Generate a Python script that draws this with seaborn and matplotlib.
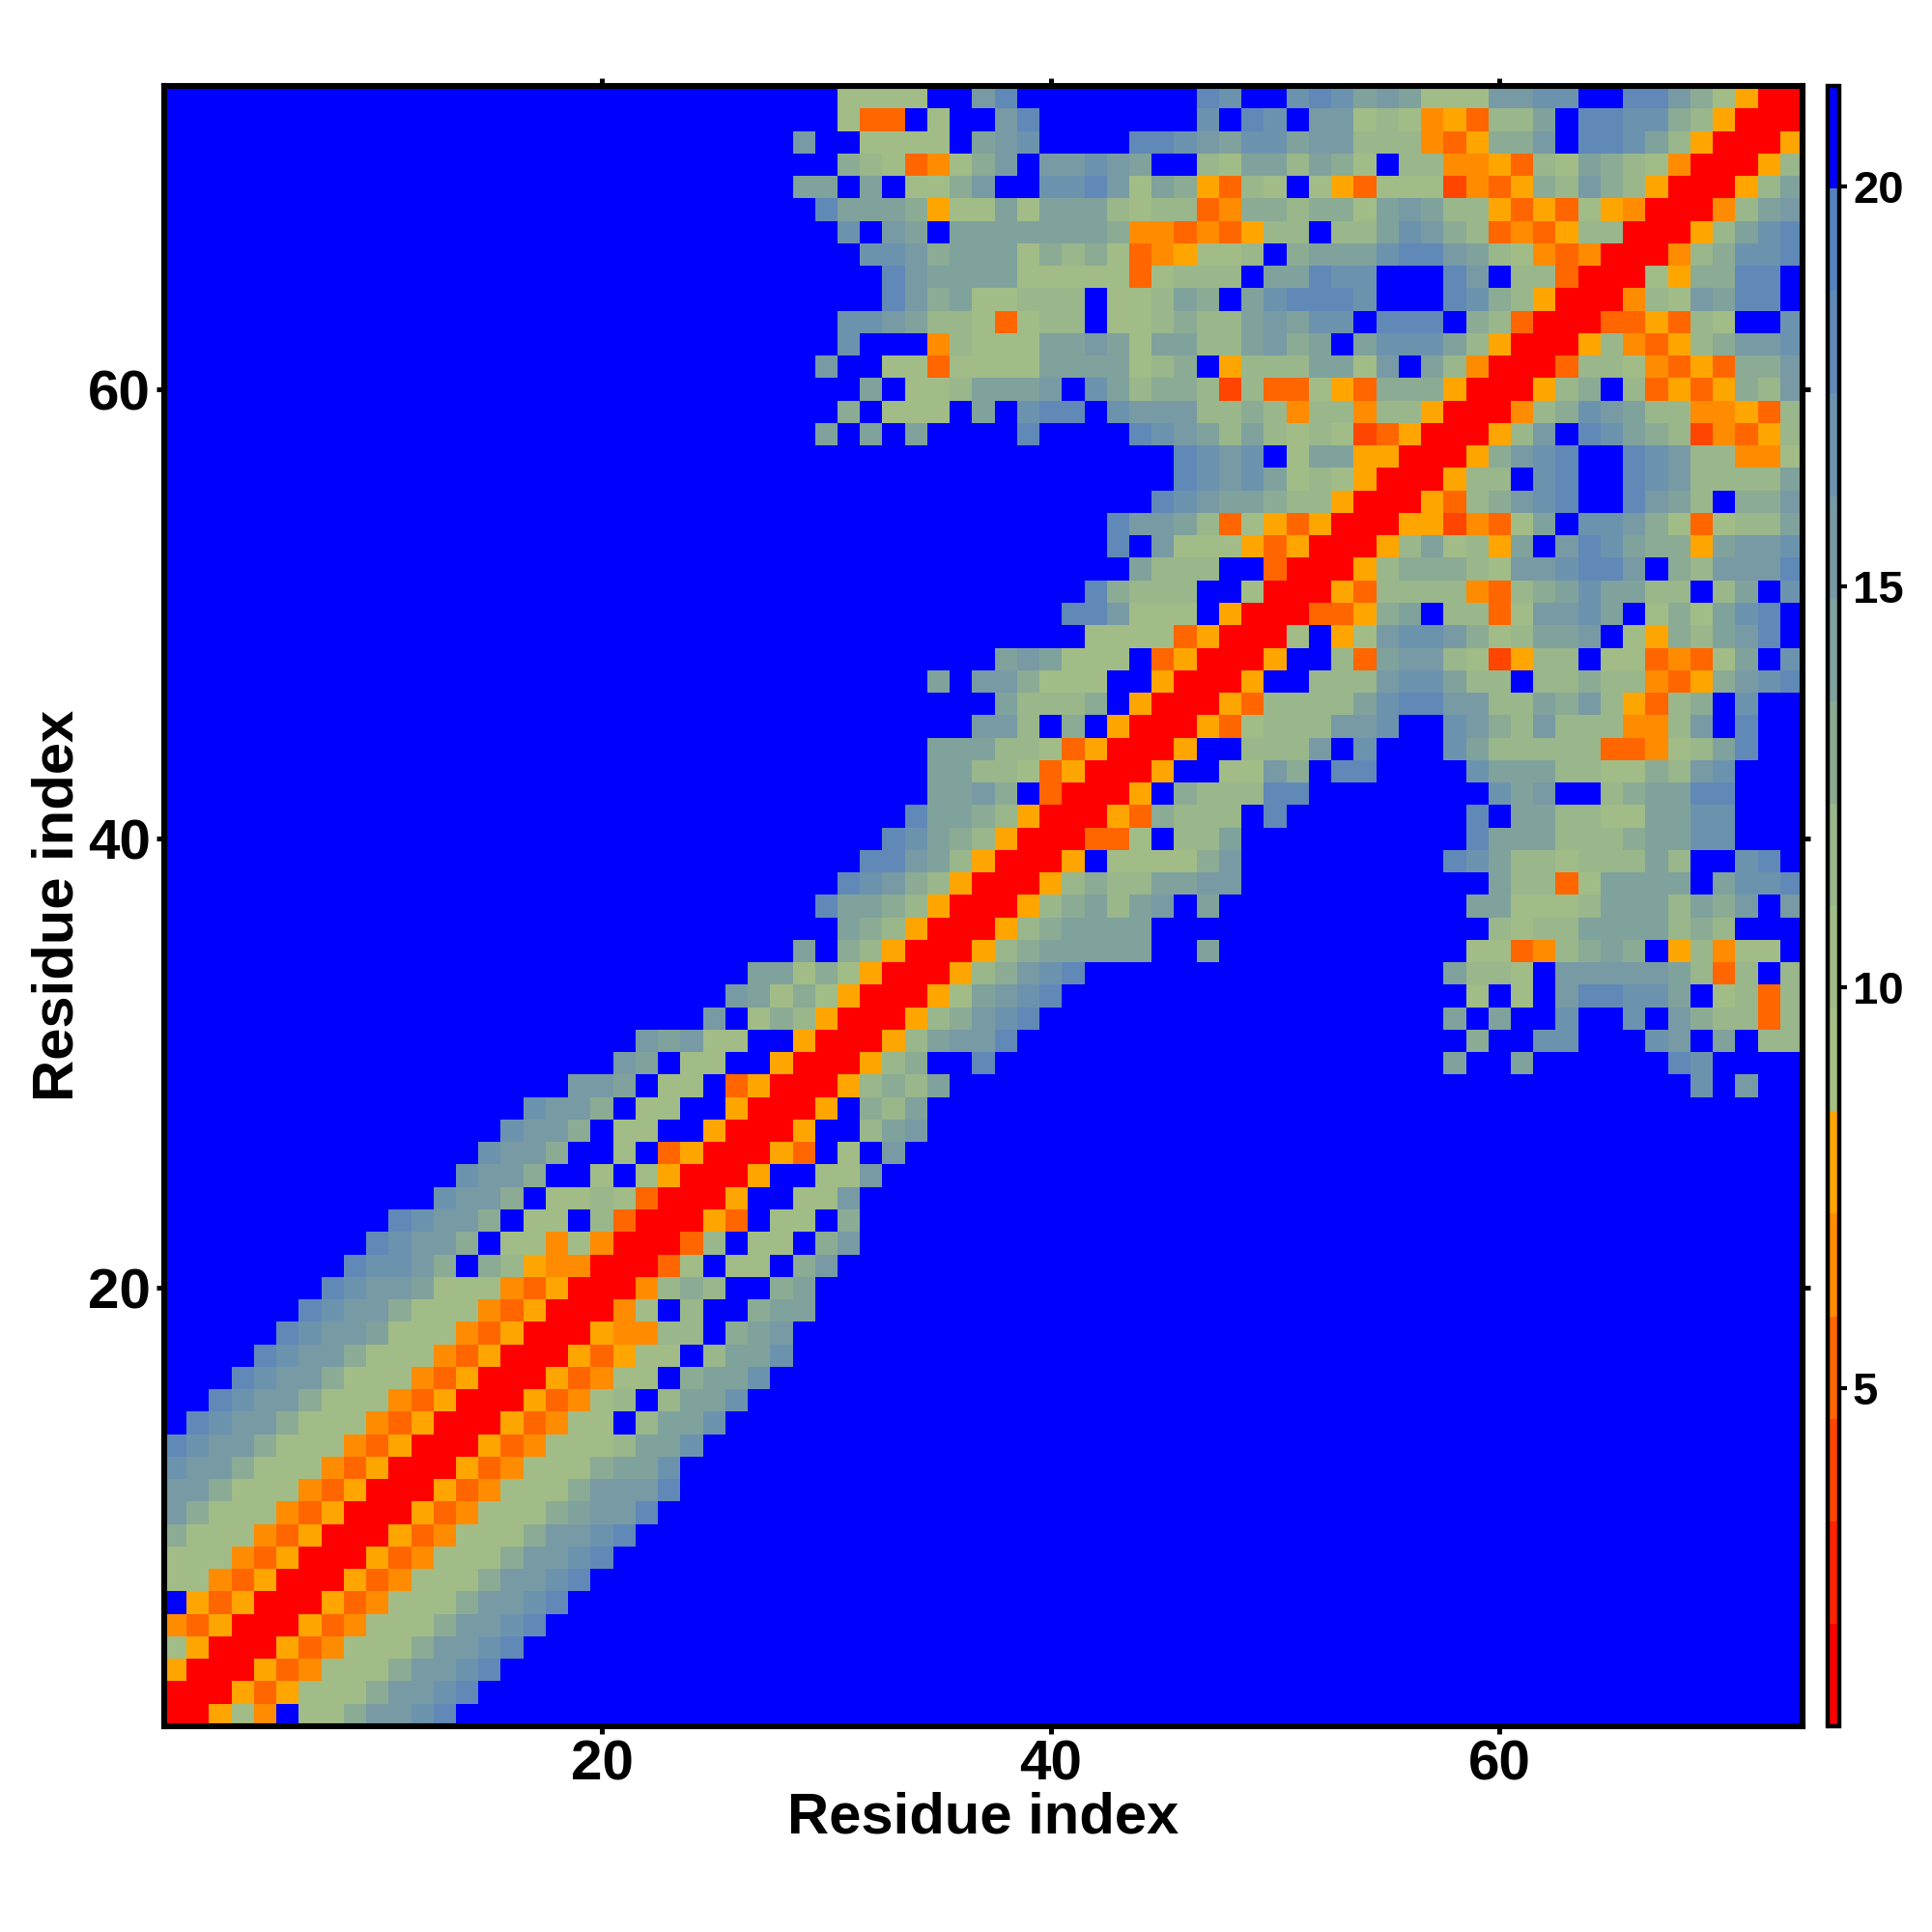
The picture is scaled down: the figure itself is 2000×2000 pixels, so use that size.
# ============================================================
# IMPORT LIBRARIES
# ============================================================

import numpy as np
import matplotlib
matplotlib.use("Agg")
import matplotlib.pyplot as plt
import seaborn as sns
from matplotlib.colors import BoundaryNorm, ListedColormap

# ============================================================
# DATA
# ============================================================

# One string per residue, from 73 at the top down to 1.
# Each character is the colour bin of a cell, hex coded, "_" is ten empty cells.
rows = [
    "_ _ _ 7777ffbdff ffffffdcff cdcaba777b bccffddb97 500",
    "_ _ _ 733f7ffbdf ffffffcfdc fbb7874538 8afddcc985 000",
    "_ _ ffffffffbf f7777fabcf fffddcbacc abb8884359 9bfddca850 005",
    "_ _ _ 9873479bfb bcbaff87aa 8a97f88445 387a987400 058",
    "_ _ ffffffffaa faf779bffc cdb7a95387 f753777243 598b985000 58a",
    "_ _ fffffffffd aaa9577a7a aa87883499 8997aba885 3537540004 8ab",
    "_ _ _ cfbafaaaaa aa94434358 8f88acb983 4358800058 acd",
    "_ _ _ fccb9aaa79 897345778f 9aaacddba8 7434000489 ccd",
    "_ _ _ ffdbaaaa77 77737888fa adccfffdbf 8830007599 ddf",
    "_ _ _ ffdb9a7788 8f778a9fac dddcfffdc9 85000487ba ddf",
    "_ _ _ ccba887378 8f778988ab accfdddf98 3000335387 ffc",
    "_ _ _ cfff48777a aba7aa88ab 9afaccca85 0005843589 bbc",
    "_ _ fffffffffb ff7737777a aaa789f588 8aa7bfa840 0038874353 99b",
    "_ _ _ faf778aaab fca8998283 3753999500 0589f83535 98b",
    "_ _ _ 9f777fafcd dfcbbb8898 4884885000 489cba8844 538",
    "_ _ fffffffffa fafaffffdf fffdcba8a8 7872350005 8bfdca9824 358",
    "_ _ _ _ fffffdcbcf 7aa5500059 bcdffdcb88 447",
    "_ _ _ _ fffffdcbca 7875000588 fcdffdcb88 88a",
    "_ _ _ _ ffffdcbaa9 8850005389 bcdffdba8f 99b",
    "_ _ _ _ ffdbba8375 3500055243 7afccb9737 88a",
    "_ _ _ _ ffdfb77753 500058a785 afbdca995a bbc",
    "_ _ _ _ fffa888ff3 0005899987 bbcddbf98b bbd",
    "_ _ _ _ fd9888ff70 0053888843 89acaa88f8 afc",
    "_ _ _ _ ddb777f500 03359af883 7bbcaf797a cdf",
    "_ _ _ _ f777735000 7f57bccb97 8aabf7598a bdf",
    "_ _ _ fffffffaba 777f350005 ff83abb872 588f773437 afc",
    "_ _ _ ffffafbb97 77ff50005f f888bcca88 f889884359 bcd",
    "_ _ _ fffffffa88 89f5000538 888acddbb8 8a9b85389f cff",
    "_ _ _ ffffffbb8f 9f50005378 88bbcffcb9 8b888448bf dff",
    "_ _ _ ffffaaa887 350005ff88 8bfcfffca8 888833478a dff",
    "_ _ _ ffffaa8873 50005ff77b 9fddffffca aa887798bc fff",
    "_ _ _ ffffaab9f3 0005f9888d dffffffffc abff89aadd fff",
    "_ _ _ fffdaa9850 00539888fd ffffffffdf aa8877aacc fff",
    "_ _ _ ffdca98500 0337f88aff ffffffffda aa8889aacc fff",
    "_ _ _ fddba85000 5f77779bff fffffffdca 887888a8ff cdf",
    "_ _ _ dcb9850005 8988aabbff fffffffffa 8837aaaafa ccd",
    "_ _ fffffffffd aa98500058 9a8abfafff ffffffffaa 7778aaa8a9 bfb",
    "_ _ _ a985000589 aaaaffffff fffffffff8 788aaaa898 fff",
    "_ _ ffffffffaf 985000589a aaaaffafff ffffffff77 3489a9f584 77f",
    "_ _ ffffffaa79 75000589bc dfffffffff fffffffa88 7fbbbbba83 8f8",
    "_ _ fffffba797 500057abcd _ ffffffff7f 7fbddccaf7 838",
    "_ _ ffffbf7985 000589bcdf _ fffffffafa ffcffcfb98 838",
    "_ _ fbab77ff50 0058abbdff _ ffffffff9f fccfffcbfa f88",
    "_ _ baf77ff500 0589ffdfff _ fffffffaff affffffdcf fff",
    "_ ffffffffbb af77f35000 5898afffff _ _ ffffffffcf bff",
    "_ ffffffcbb9 f77ff50005 f98affffff _ _ _ fff",
    "_ fffffcbb9f 77ff50005f f8abffffff _ _ _ fff",
    "_ ffffcbb9ff 7f3500053f 7fbfffffff _ _ _ fff",
    "_ fffcbb9ff7 f750005ff7 7bffffffff _ _ _ fff",
    "_ ffcbb9f778 730005ff77 bfffffffff _ _ _ fff",
    "_ dcbb9f77f8 300053f77f 9fffffffff _ _ _ fff",
    "fffffffffd cbb9f77474 00038f77f9 bfffffffff _ _ _ fff",
    "ffffffffdc cb9f985440 0037f77f9b _ _ _ _ fff",
    "fffffffdcb ba77743500 04898ff9af _ _ _ _ fff",
    "ffffffdcbb 9777435000 47f8ff9aaf _ _ _ _ fff",
    "fffffdcbba 7774350005 4488f9abff _ _ _ _ fff",
    "ffffdcbb97 7743500053 577f8aacff _ _ _ _ fff",
    "fffdcbb977 7435000534 77f9aacfff _ _ _ _ fff",
    "ffdcbb9777 4350005347 8f8aacffff _ _ _ _ fff",
    "fdcbb97774 3500053477 f8aacfffff _ _ _ _ fff",
    "dcbb977743 5000534777 8aacffffff _ _ _ _ fff",
    "cbb9777435 0005347779 aacfffffff _ _ _ _ fff",
    "bb97774350 005347779b bbdfffffff _ _ _ _ fff",
    "b977743500 05347779ab bdffffffff _ _ _ _ fff",
    "9777435000 5347779bbc dfffffffff _ _ _ _ fff",
    "7774350005 347779bbcd _ _ _ _ _ fff",
    "7743500053 47779bbcdf _ _ _ _ _ fff",
    "f535000534 7779bbcdff _ _ _ _ _ fff",
    "4350005347 779bbcdfff _ _ _ _ _ fff",
    "7500053477 79bbcdffff _ _ _ _ _ fff",
    "5000534777 9bbcdfffff _ _ _ _ _ fff",
    "0005357779 bbcdffffff _ _ _ _ _ fff",
    "00574f779b bcdfffffff _ _ _ _ _ fff",
]

bin_colors = [
    "#FF0000", "#FF2200", "#FF4500", "#FF6600", "#FF8C00", "#FFA500",
    "#A6C085", "#A2BC87", "#9AB68B", "#8BAB94", "#80A29C", "#789AA5",
    "#6C93AE", "#6089B8", "#5583BE", "#0000FF",
]

value_min = 0.78
value_max = 21.25

axis_ticks = [20, 40, 60]
bar_ticks = [5, 10, 15, 20]

# ============================================================
# BUILD MATRIX
# ============================================================

edges = np.linspace(value_min, value_max, len(bin_colors) + 1)
centers = (edges[:-1] + edges[1:]) / 2

matrix = []
for row in rows:
    row = row.replace("_", "f" * 10).replace(" ", "")
    assert len(row) == 73, (len(matrix), len(row))
    matrix.append([centers[int(ch, 16)] for ch in row])
matrix = np.array(matrix)
assert matrix.shape == (73, 73), matrix.shape

# ============================================================
# PLOT
# ============================================================

sns.set_style("white")
plt.rcParams["font.family"] = ["Liberation Sans", "DejaVu Sans"]
plt.rcParams["font.weight"] = "bold"
plt.rcParams["text.color"] = "black"
plt.rcParams["xtick.labelcolor"] = "black"
plt.rcParams["ytick.labelcolor"] = "black"

fig = plt.figure(figsize=(10, 10), dpi=200)
ax = fig.add_axes([170 / 2000, 1 - 1787 / 2000, 1696 / 2000, 1698 / 2000])
cax = fig.add_axes([1892 / 2000, 1 - 1787 / 2000, 12 / 2000, 1698 / 2000])

cmap = ListedColormap(bin_colors)
norm = BoundaryNorm(edges, cmap.N)

sns.heatmap(
    matrix,
    ax=ax,
    cbar_ax=cax,
    cmap=cmap,
    norm=norm,
    square=False,
    xticklabels=False,
    yticklabels=False,
    cbar_kws={"ticks": bar_ticks, "spacing": "proportional", "drawedges": False},
)

# ============================================================
# AXES
# ============================================================

ax.set_xticks([t - 0.5 for t in axis_ticks])
ax.set_xticklabels(axis_ticks)
ax.set_yticks([73 - t + 0.5 for t in axis_ticks])
ax.set_yticklabels(axis_ticks, rotation=0)

ax.tick_params(
    axis="both",
    which="major",
    length=3,
    width=1.8,
    color="black",
    labelsize=21,
    pad=2,
    top=True,
    right=True,
    bottom=True,
    left=True,
)

for spine in ax.spines.values():
    spine.set_visible(True)
    spine.set_linewidth(2.2)
    spine.set_color("black")

fig.text(1018 / 2000, 1 - 1898 / 2000, "Residue index", fontsize=21.5,
         fontweight="bold", ha="center", va="baseline")
fig.text(60 / 2000, 1 - 937 / 2000, "Residue index", fontsize=21.5,
         fontweight="bold", ha="center", va="center", rotation=90)

# ============================================================
# COLOUR BAR
# ============================================================

cbar = ax.collections[0].colorbar
cbar.outline.set_visible(True)
cbar.outline.set_linewidth(1.6)
cbar.outline.set_edgecolor("black")
cbar.ax.tick_params(length=3, width=1.5, color="black", labelsize=17, pad=2,
                    right=True, left=False)
cbar.ax.minorticks_off()

# ============================================================
# SAVE
# ============================================================

fig.savefig("out.png", dpi=200, facecolor="white")
